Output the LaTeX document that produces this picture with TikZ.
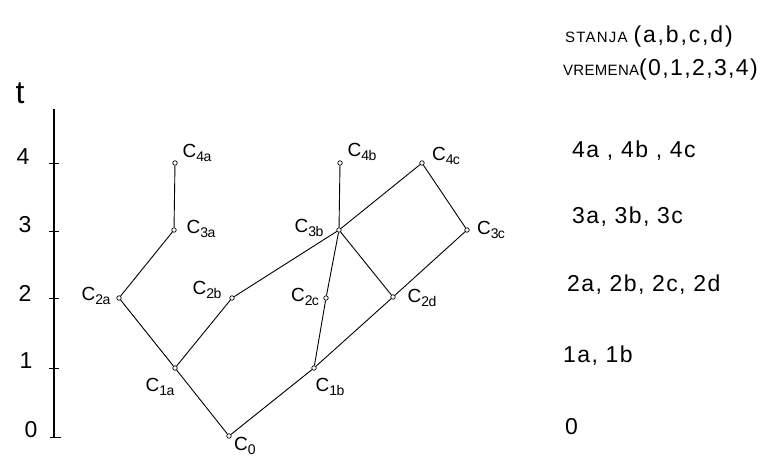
\documentclass[tikz,border=0pt]{standalone}
\usepackage{fontspec}
\setmainfont{Liberation Sans}
\newcommand{\cl}[1]{C\raisebox{-0.45ex}{\fontsize{14}{14}\selectfont\addfontfeature{LetterSpace=-4} #1}}
\begin{document}
\begin{tikzpicture}[x=1pt,y=-1pt,
  dot/.style={circle,draw,fill=white,inner sep=0pt,minimum size=4.5pt,line width=0.7pt},
  edge/.style={line width=0.9pt},
  lab/.style={inner sep=0pt,font=\fontsize{19}{19}\selectfont},
  axlab/.style={inner sep=0pt,font=\fontsize{23}{23}\selectfont},
  col/.style={inner sep=0pt,anchor=west,font=\fontsize{23}{23}\selectfont\addfontfeature{LetterSpace=6}}]
\useasboundingbox (0,0) rectangle (781,459);
% axis
\coordinate (atop) at (54,109);
\coordinate (abot) at (54,437);
\draw[line width=1.1pt] (atop) -- (abot);
\foreach \yy/\n in {163/4,231/3,298/2,368/1}{
  \coordinate (tl\n) at (49,\yy); \coordinate (tr\n) at (59,\yy);
  \draw[line width=0.7pt] (tl\n) -- (tr\n);}
\coordinate (tl0) at (50,437); \coordinate (tr0) at (61,437);
\draw[line width=0.7pt] (tl0) -- (tr0);
\node[axlab,font=\fontsize{32}{32}\selectfont] (t) at (20,93) {t};
\node[axlab] (n4) at (23,157) {4};
\node[axlab] (n3) at (25,225) {3};
\node[axlab] (n2) at (25,293) {2};
\node[axlab] (n1) at (26,361) {1};
\node[axlab] (n0) at (31,430) {0};
% nodes
\node[dot] (c0) at (229,436) {};
\node[dot] (c1a) at (175,368) {};
\node[dot] (c1b) at (314,368) {};
\node[dot] (c2a) at (119,298) {};
\node[dot] (c2b) at (232,298) {};
\node[dot] (c2c) at (326,298) {};
\node[dot] (c2d) at (393,297) {};
\node[dot] (c3a) at (174,230) {};
\node[dot] (c3b) at (339,230) {};
\node[dot] (c3c) at (467,230) {};
\node[dot] (c4a) at (175,163) {};
\node[dot] (c4b) at (340,163) {};
\node[dot] (c4c) at (422,163) {};
% edges
\draw[edge] (c0) -- (c1a);
\draw[edge] (c0) -- (c1b);
\draw[edge] (c1a) -- (c2a);
\draw[edge] (c1a) -- (c2b);
\draw[edge] (c1b) -- (c2c);
\draw[edge] (c1b) -- (c2d);
\draw[edge] (c2a) -- (c3a);
\draw[edge] (c3a) -- (c4a);
\draw[edge] (c2b) -- (c3b);
\draw[edge] (c2c) -- (c3b);
\draw[edge] (c2d) -- (c3b);
\draw[edge] (c2d) -- (c3c);
\draw[edge] (c3b) -- (c4b);
\draw[edge] (c3b) -- (c4c);
\draw[edge] (c4c) -- (c3c);
% labels
\node[lab] (l4a) at (197,153) {\cl{4a}};
\node[lab] (l3a) at (201,229) {\cl{3a}};
\node[lab] (l2a) at (96,296) {\cl{2a}};
\node[lab] (l2b) at (207,290) {\cl{2b}};
\node[lab] (l1a) at (160,387) {\cl{1a}};
\node[lab] (l0) at (245,446) {\cl{0}};
\node[lab] (l1b) at (330,387) {\cl{1b}};
\node[lab] (l2c) at (305,297) {\cl{2c}};
\node[lab] (l3b) at (309,228) {\cl{3b}};
\node[lab] (l4b) at (362,152) {\cl{4b}};
\node[lab] (l4c) at (446,156) {\cl{4c}};
\node[lab] (l3c) at (491,230) {\cl{3c}};
\node[lab] (l2d) at (422,298) {\cl{2d}};
% right column
\node[col] (r4) at (572,151) {4a , 4b , 4c};
\node[col] (r3) at (572,217) {3a, 3b, 3c};
\node[col] (r2) at (567,285) {2a, 2b, 2c, 2d};
\node[col] (r1) at (563,356) {1a, 1b};
\node[col] (r0) at (565,427) {0};
% header
\node[inner sep=0pt,anchor=west] (stanja) at (565,37) {{\fontsize{15}{15}\selectfont\addfontfeature{LetterSpace=8}STANJA}\hspace{6pt}{\fontsize{23}{23}\selectfont\addfontfeature{LetterSpace=8}(a,b,c,d)}};
\node[inner sep=0pt,anchor=west] (vremena) at (563,70) {{\fontsize{15}{15}\selectfont\addfontfeature{LetterSpace=2}VREMENA}{\fontsize{23}{23}\selectfont\addfontfeature{LetterSpace=6}(0,1,2,3,4)}};
\end{tikzpicture}
\end{document}
